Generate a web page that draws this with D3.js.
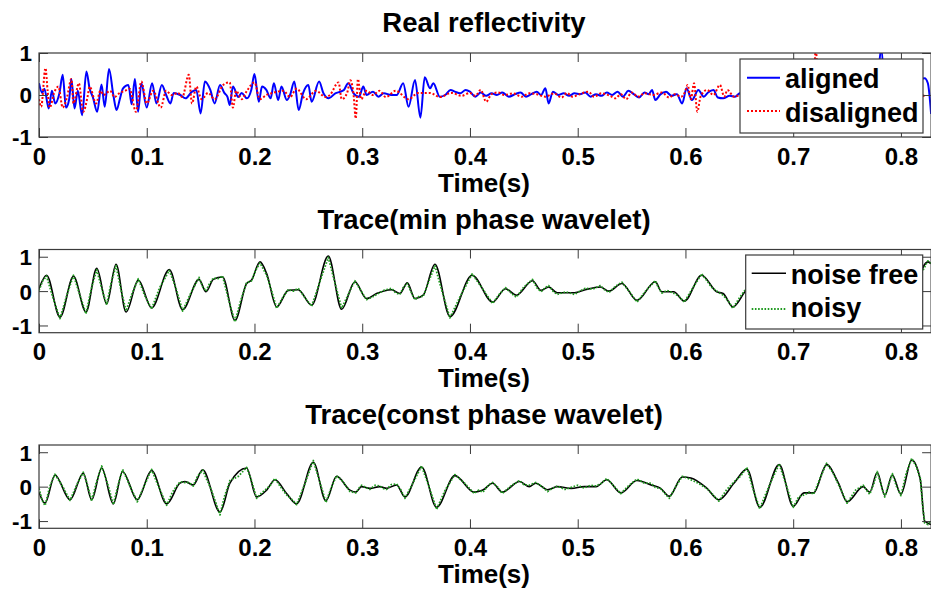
<!DOCTYPE html>
<html><head><meta charset="utf-8">
<script src="https://cdn.jsdelivr.net/npm/d3@7"></script>
<style>
html,body{margin:0;padding:0;background:#fff;}
svg text{font-family:"Liberation Sans",Arial,Helvetica,sans-serif;font-weight:bold;fill:#000;}
</style></head><body>
<svg id="chart" width="931" height="592"></svg>
<script>
// ---------- DATA (time in ms, amplitude) ----------
const xTicks = [0,0.1,0.2,0.3,0.4,0.5,0.6,0.7,0.8];
const xTickLabels = ["0","0.1","0.2","0.3","0.4","0.5","0.6","0.7","0.8"];
const yTicks = [-1,0,1];
const yTickLabels = ["-1","0","1"];
const titles = ["Real reflectivity","Trace(min phase wavelet)","Trace(const phase wavelet)"];
const xLabel = "Time(s)";
const legend1 = ["aligned","disaligned"];
const legend2 = ["noise free","noisy"];

const aligned = [[0,0.28],[3,0.05],[5,0.15],[9,-0.32],[12,0.1],[15,-0.2],[19,0.05],[22,0.48],[25,-0.3],[28,-0.1],[30,0.38],[33,-0.32],[36,0.1],[40,-0.48],[44,0.56],[47,0.15],[50,-0.05],[54,-0.4],[58,0.25],[61,-0.28],[65,0.62],[69,0.0],[72,-0.36],[75,-0.1],[78,0.16],[83,0.24],[86,-0.22],[89,0.38],[92,-0.4],[95,0.28],[100,-0.3],[105,0.28],[109,-0.2],[114,0.24],[118,0.0],[122,-0.2],[125,0.05],[131,0.0],[136,-0.08],[142,0.08],[146,0.12],[150,-0.44],[154,0.32],[159,0.12],[163,-0.2],[168,0.24],[172,0.05],[175,-0.05],[177,-0.24],[180,0.2],[185,-0.05],[188,0.05],[193,-0.08],[197,0.12],[200,0.5],[204,-0.16],[207,0.2],[211,0.12],[215,-0.08],[218,0.28],[222,-0.12],[225,0.2],[230,-0.12],[233,0.0],[237,0.32],[241,-0.36],[245,0.04],[250,0.24],[253,-0.16],[260,0.32],[264,0.04],[269,-0.08],[275,0.04],[280,0.08],[283,0.12],[287,0.28],[292,0.04],[297,-0.04],[301,0.2],[304,0.0],[310,0.08],[315,-0.04],[320,0.04],[327,0.0],[332,0.0],[338,0.28],[343,-0.28],[349,0.36],[354,-0.54],[358,0.42],[363,0.16],[366,0.28],[372,-0.04],[377,0.0],[382,0.12],[386,0.08],[391,0.04],[396,0.12],[400,0.08],
[405,-0.04],[410,0.06],[415,-0.02],[420,0.04],[425,0.0],[430,0.06],[436,-0.04],[442,0.02],[447,0.06],[452,-0.04],[457,0.02],[462,0.08],[466,0.0],[470,0.16],[473,-0.2],[477,0.08],[482,0.0],[487,0.04],[492,-0.02],[497,0.04],[502,0.02],[507,0.06],[512,-0.04],[517,0.02],[522,-0.02],[527,0.06],[532,0.0],[537,0.08],[542,-0.04],[547,0.1],[552,0.02],[557,-0.06],[562,0.06],[566,0.02],[569,0.12],[572,-0.12],[577,0.02],[582,0.08],[587,-0.02],[592,0.02],[597,-0.2],[601,0.16],[606,-0.12],[612,0.12],[617,-0.04],[621,0.06],[626,0.12],[630,-0.06],[635,-0.08],[641,-0.02],[646,-0.04],[651,0.05],[656,0.02],
[662,0.1],[668,-0.1],[674,0.2],[680,-0.15],[686,0.1],[692,-0.2],[698,0.25],[704,-0.1],[710,0.15],[716,-0.3],[722,0.3],[728,-0.2],[734,0.1],[740,-0.25],[746,0.35],[752,-0.1],[758,0.2],[764,-0.3],[770,0.15],[776,-0.2],[782,1.1],[786,-0.5],[792,0.3],[798,-0.3],[804,0.2],[810,-0.4],[816,0.35],[822,0.4],[825,0.28],[828,-0.45]];

const disaligned = [[0,-0.1],[2,-0.28],[6,0.64],[8,0.1],[10,-0.3],[14,0.05],[18,0.2],[22,-0.3],[26,-0.05],[30,0.38],[32,-0.2],[37,0.28],[41,-0.4],[45,-0.05],[47,0.2],[53,-0.2],[57,0.1],[60,0.0],[66,0.1],[70,-0.05],[75,0.05],[80,0.1],[84,0.15],[90,-0.4],[95,0.32],[100,-0.2],[106,0.1],[113,-0.3],[118,0.1],[123,0.0],[129,0.05],[133,-0.05],[139,0.48],[142,-0.2],[146,0.2],[151,-0.1],[157,0.05],[163,-0.1],[171,0.24],[177,0.3],[180,-0.3],[183,0.1],[188,-0.1],[193,0.1],[200,0.3],[205,-0.1],[211,0.0],[217,0.05],[227,0.1],[233,-0.05],[239,0.15],[248,-0.1],[257,0.1],[266,-0.05],[270,0.0],[278,0.3],[281,-0.1],[286,0.05],[289,0.35],[292,0.0],[294,-0.56],[296,0.38],[299,-0.1],[304,0.1],[310,0.0],[316,0.1],[322,-0.05],[331,0.1],[343,-0.1],[352,0.05],[363,0.05],[372,-0.05],[383,0.05],[392,-0.02],[400,0.05],
[405,-0.02],[410,0.12],[415,-0.16],[420,0.02],[426,0.06],[432,0.0],[440,0.04],[448,-0.04],[455,0.04],[462,0.02],[470,-0.04],[478,0.04],[485,-0.06],[490,0.05],[495,-0.04],[502,0.02],[510,0.08],[515,-0.04],[522,0.04],[530,-0.02],[535,-0.08],[540,0.02],[545,-0.1],[550,0.06],[556,-0.04],[562,0.04],[570,0.0],[578,0.06],[585,-0.06],[590,0.02],[596,-0.04],[600,0.1],[602,0.24],[605,-0.1],[608,0.28],[611,-0.4],[614,-0.04],[620,0.12],[626,0.0],[632,0.24],[636,-0.04],[639,0.12],[645,-0.04],[651,0.0],[656,0.02],
[664,0.1],[672,-0.15],[680,0.1],[688,-0.1],[696,0.2],[704,-0.2],[712,0.15],[718,-0.3],[721,1.1],[724,-0.4],[730,0.2],[738,-0.1],[746,0.15],[754,-0.2],[762,0.1],[770,-0.1],[778,0.15],[786,-0.2],[794,0.1],[802,-0.1],[810,0.1],[818,-0.05],[822,0.0]];

const minFree = [[0,0.07],[7,0.46],[19.5,-0.76],[32,0.43],[43.6,-0.61],[53.6,0.66],[62.8,-0.37],[71.5,0.78],[80.8,-0.61],[92.2,0.32],[104.5,-0.49],[120.9,0.63],[133.3,-0.54],[148.5,0.34],[155,-0.02],[161.8,0.34],[170.4,0.41],[181.9,-0.85],[192.7,0.22],[197.3,0.32],[205.1,0.85],[211.3,0.51],[220.6,-0.46],[231.4,0.02],[240.6,0.04],[253,-0.41],[268.5,1.02],[280.9,-0.53],[293.2,0.27],[304,-0.22],[313.3,-0.07],[327.2,0.04],[335,-0.07],[341.8,0.24],[348.9,-0.22],[356.6,-0.12],[367.5,0.78],[381.4,-0.74],[402,0.46],[421,-0.32],[433,0.07],[443,-0.12],[458,0.3],[466,0.02],[473,0.12],[481,-0.05],[497,-0.05],[507,0.04],[521,0.12],[529,0],[541,0.22],[555,-0.27],[572,0.27],[578,-0.02],[589,-0.02],[599,-0.29],[615,0.46],[629,-0.02],[635,-0.07],[644,-0.46],[656,0.02],[668,0.4],[682,-0.5],[696,0.5],[710,-0.4],[724,0.3],[738,-0.3],[752,0.4],[766,-0.5],[780,0.3],[795,-0.4],[808,-0.2],[825,0.85],[828,0.8]];

const minNoisy = [[0,0.02],[3.5,0.3],[7,0.44],[13,-0.2],[19.5,-0.8],[26,-0.1],[32,0.46],[38,-0.12],[43.6,-0.66],[48.6,0.08],[53.6,0.62],[58,0.1],[62.8,-0.4],[67,0.25],[71.5,0.74],[76,0.05],[80.8,-0.58],[86,-0.1],[92.2,0.36],[98,-0.12],[104.5,-0.52],[112,0.1],[120.9,0.6],[127,0.1],[133.3,-0.58],[141,-0.05],[148.5,0.4],[152,0.12],[155,0.0],[158,0.2],[161.8,0.38],[166,0.36],[170.4,0.44],[176,-0.25],[181.9,-0.9],[187,-0.3],[192.7,0.25],[197.3,0.3],[201,0.6],[205.1,0.82],[211.3,0.46],[216,0.0],[220.6,-0.5],[226,-0.2],[231.4,0.05],[236,0.0],[240.6,0.08],[247,-0.2],[253,-0.44],[261,0.3],[268.5,0.98],[275,0.2],[280.9,-0.5],[287,-0.1],[293.2,0.3],[299,0.0],[304,-0.25],[309,-0.18],[313.3,-0.1],[320,0.02],[327.2,0.08],[331,-0.05],[335,-0.1],[338,0.1],[341.8,0.22],[345,0.0],[348.9,-0.25],[353,-0.15],[356.6,-0.16],[362,0.3],[367.5,0.74],[374,0.0],[381.4,-0.78],[391,-0.15],[402,0.5],[411,0.1],[421,-0.36],[427,-0.1],[433,0.1],[438,-0.05],[443,-0.18],[450,0.12],[458,0.34],[462,0.1],[466,-0.02],[470,0.1],[473,0.16],[477,0.0],[481,-0.1],[489,-0.02],[497,-0.1],[502,0.0],[507,0.08],[514,0.06],[521,0.16],[525,0.04],[529,-0.04],[535,0.14],[541,0.26],[548,-0.02],[555,-0.32],[563,0.0],[572,0.3],[575,0.1],[578,-0.06],[583,0.02],[589,-0.06],[594,-0.15],[599,-0.32],[607,0.1],[615,0.5],[620,0.3],[624,0.12],[629,0.0],[635,-0.12],[640,-0.3],[644,-0.5],[650,-0.2],[656,0.06],[668,0.42],[682,-0.52],[696,0.48],[710,-0.42],[724,0.32],[738,-0.28],[752,0.42],[766,-0.48],[780,0.28],[795,-0.42],[808,-0.18],[818,0.45],[822,0.7],[825,0.88],[828,0.8]];

const constFree = [[0,-0.16],[5.6,-0.48],[14.8,0.34],[28.8,-0.38],[41.1,0.39],[48.9,-0.38],[58.2,0.54],[69,-0.5],[77.6,0.44],[91.2,-0.38],[104.5,0.47],[118.5,-0.5],[130.8,0.1],[135.5,0.15],[143.2,0.05],[151.9,0.49],[168,-0.74],[177.2,0.1],[192.7,0.54],[202,-0.3],[211.3,-0.1],[219,0.2],[229.8,-0.2],[239.1,-0.5],[254.6,0.71],[266.3,-0.41],[276.2,0.3],[288.6,-0.1],[294.1,-0.16],[299.4,0],[307.1,-0.05],[316.4,0],[322.6,-0.05],[331.9,0.05],[339.6,-0.3],[355.1,0.57],[369,-0.6],[386,0.32],[404,-0.16],[412,-0.1],[421,0.1],[430,-0.16],[446,0.15],[455,0],[461,0.1],[472,-0.09],[481,0],[494,-0.05],[506,0],[517,0],[527,0.2],[540,-0.18],[555,0.18],[568,0.05],[577,-0.05],[585,-0.28],[597,0.28],[605,0.25],[620,-0.05],[631,-0.38],[645,0.1],[657,0.51],[669,-0.6],[687,0.64],[700,-0.57],[710,-0.18],[719,-0.18],[731,0.64],[742,0.1],[750,-0.44],[765,0],[771,-0.16],[778,0.41],[785,-0.25],[792,0.34],[800,-0.22],[810,0.77],[818,0.2],[822,-1.0],[828,-1.1]];

const constNoisy = [[0,-0.05],[3,-0.4],[5.6,-0.55],[10,0.0],[14.8,0.36],[22,0.0],[28.8,-0.4],[35,0.05],[41.1,0.42],[45,0.05],[48.9,-0.42],[53,0.1],[58.2,0.6],[64,0.05],[69,-0.52],[73,0.0],[77.6,0.5],[84,0.05],[91.2,-0.44],[98,0.05],[104.5,0.5],[111,0.0],[118.5,-0.54],[124,-0.15],[130.8,0.14],[135.5,0.12],[139,0.12],[143.2,0.02],[147,0.3],[151.9,0.48],[160,-0.1],[168,-0.82],[172,-0.3],[177.2,0.18],[185,0.3],[192.7,0.56],[197,0.2],[202,-0.34],[206,-0.2],[211.3,-0.06],[215,0.05],[219,0.24],[224,0.0],[229.8,-0.24],[234,-0.35],[239.1,-0.52],[247,0.1],[254.6,0.76],[260,0.2],[266.3,-0.46],[271,-0.05],[276.2,0.32],[282,0.15],[288.6,-0.14],[294.1,-0.18],[297,-0.04],[299.4,0.04],[303,-0.02],[307.1,-0.08],[312,0.04],[316.4,0.02],[320,-0.06],[322.6,-0.08],[327,0.06],[331.9,0.08],[336,-0.1],[339.6,-0.34],[347,0.1],[355.1,0.6],[362,0.0],[369,-0.66],[377,-0.1],[386,0.35],[395,0.1],[404,-0.2],[408,-0.1],[412,-0.16],[417,0.04],[421,0.12],[426,-0.02],[430,-0.2],[438,0.02],[446,0.18],[450,0.06],[455,0.04],[458,0.08],[461,0.12],[467,0.0],[472,-0.14],[476,-0.06],[481,0.02],[488,-0.08],[494,-0.02],[500,0.04],[506,-0.04],[512,0.04],[517,0.02],[522,0.1],[527,0.24],[534,0.0],[540,-0.2],[548,0.05],[555,0.22],[562,0.1],[568,0.1],[572,-0.02],[577,-0.06],[581,-0.2],[585,-0.34],[591,0.0],[597,0.3],[601,0.26],[605,0.2],[612,0.1],[620,-0.06],[626,-0.25],[631,-0.42],[638,-0.1],[645,0.14],[651,0.3],[657,0.56],[663,-0.1],[669,-0.64],[678,0.05],[687,0.66],[694,0.0],[700,-0.6],[705,-0.3],[710,-0.24],[715,-0.16],[719,-0.22],[725,0.25],[731,0.68],[737,0.4],[742,0.06],[746,-0.2],[750,-0.48],[758,-0.1],[765,0.04],[768,-0.1],[771,-0.22],[775,0.1],[778,0.44],[782,0.0],[785,-0.3],[789,0.1],[792,0.38],[796,0.0],[800,-0.26],[805,0.4],[810,0.82],[814,0.6],[818,0.24],[820,-0.5],[822,-1.05],[825,-1.1],[828,-1.0]];

// ---------- LAYOUT ----------
const svg = d3.select("#chart");
const FONT = '"Liberation Sans",Arial,Helvetica,sans-serif';
const x = d3.scaleLinear().domain([0,0.828]).range([39,931.1]);
const panels = [
  {top:53, bottom:137, ydom:[-1,1], series:[
     {data:aligned, color:"#0000ff", width:2, dash:null, curve:d3.curveMonotoneX},
     {data:disaligned, color:"#ff0000", width:2, dash:"2,2", curve:d3.curveMonotoneX}],
   legend:{x0:740,y0:59,x1:923,y1:133, names:legend1, lineX:[747,780], lineY:[77.7,111], textX:785, base:[87.7,121.7]}},
  {top:249.5, bottom:332.7, ydom:[-1.21,1.21], series:[
     {data:minFree, color:"#000000", width:1.6, dash:null, curve:d3.curveMonotoneX},
     {data:minNoisy, color:"#1f9a1f", width:1.8, dash:"1.6,1.6", curve:d3.curveLinear}],
   legend:{x0:745.7,y0:255,x1:922.7,y1:329, names:legend2, lineX:[751.7,786], lineY:[273.3,309], textX:790.7, base:[284.3,317]}},
  {top:445, bottom:528.3, ydom:[-1.21,1.21], series:[
     {data:constFree, color:"#000000", width:1.6, dash:null, curve:d3.curveMonotoneX},
     {data:constNoisy, color:"#1f9a1f", width:1.8, dash:"1.6,1.6", curve:d3.curveLinear}],
   legend:null}
];

panels.forEach((p,pi)=>{
  const y = d3.scaleLinear().domain(p.ydom).range([p.bottom,p.top]);
  const g = svg.append("g");
  const clipId = "clip"+pi;
  svg.append("clipPath").attr("id",clipId).append("rect")
     .attr("x",x.range()[0]).attr("y",p.top).attr("width",x.range()[1]-x.range()[0]).attr("height",p.bottom-p.top);

  p.series.forEach(s=>{
    const line = d3.line().x(d=>x(d[0]/1000)).y(d=>y(d[1])).curve(s.curve);
    g.append("path").datum(s.data).attr("clip-path","url(#"+clipId+")")
      .attr("d",line).attr("fill","none").attr("stroke",s.color)
      .attr("stroke-width",s.width).attr("stroke-dasharray",s.dash)
      .attr("stroke-linejoin","round");
  });

  const axB = g.append("g").attr("transform",`translate(0,${p.bottom})`)
    .call(d3.axisBottom(x).tickValues(xTicks).tickSize(-9).tickFormat((d,i)=>xTickLabels[i]));
  axB.selectAll("text").attr("y",27.5).attr("dy",null).style("font-size","24px").style("font-family",FONT).style("font-weight","bold").attr("fill","#000");
  const axT = g.append("g").attr("transform",`translate(0,${p.top})`)
    .call(d3.axisTop(x).tickValues(xTicks).tickSize(-9).tickFormat(""));
  const axL = g.append("g").attr("transform",`translate(${x.range()[0]},0)`)
    .call(d3.axisLeft(y).tickValues(yTicks).tickSize(-9).tickFormat((d,i)=>yTickLabels[i]));
  axL.selectAll("text").attr("x",-7).attr("dy",null).attr("y",7.9).style("font-size","22.5px").style("font-family",FONT).style("font-weight","bold").attr("fill","#000");
  const axR = g.append("g").attr("transform",`translate(${x.range()[1]},0)`)
    .call(d3.axisRight(y).tickValues(yTicks).tickSize(-9).tickFormat(""));
  [axB,axT,axL,axR].forEach(a=>{
    a.select(".domain").remove();
    a.selectAll(".tick line").attr("stroke","#3a3a3a").attr("stroke-width",1);
  });
  g.append("rect").attr("x",x.range()[0]).attr("y",p.top)
    .attr("width",x.range()[1]-x.range()[0]).attr("height",p.bottom-p.top)
    .attr("fill","none").attr("stroke","#3a3a3a").attr("stroke-width",1.2);

  svg.append("text").attr("x",484).attr("y",p.top-21).attr("text-anchor","middle")
    .style("font-size","27.5px").text(titles[pi]);
  svg.append("text").attr("x",484).attr("y",p.bottom+54.5).attr("text-anchor","middle")
    .style("font-size","26px").text(xLabel);

  if(p.legend){
    const L = p.legend;
    svg.append("rect").attr("x",L.x0).attr("y",L.y0).attr("width",L.x1-L.x0).attr("height",L.y1-L.y0)
      .attr("fill","#fff").attr("stroke","#3a3a3a").attr("stroke-width",1.2);
    p.series.forEach((s,si)=>{
      svg.append("line").attr("x1",L.lineX[0]).attr("x2",L.lineX[1]).attr("y1",L.lineY[si]).attr("y2",L.lineY[si])
        .attr("stroke",s.color).attr("stroke-width",s.width).attr("stroke-dasharray",s.dash);
      svg.append("text").attr("x",L.textX).attr("y",L.base[si]).style("font-size","27px").text(L.names[si]);
    });
  }
});
</script>
</body></html>
